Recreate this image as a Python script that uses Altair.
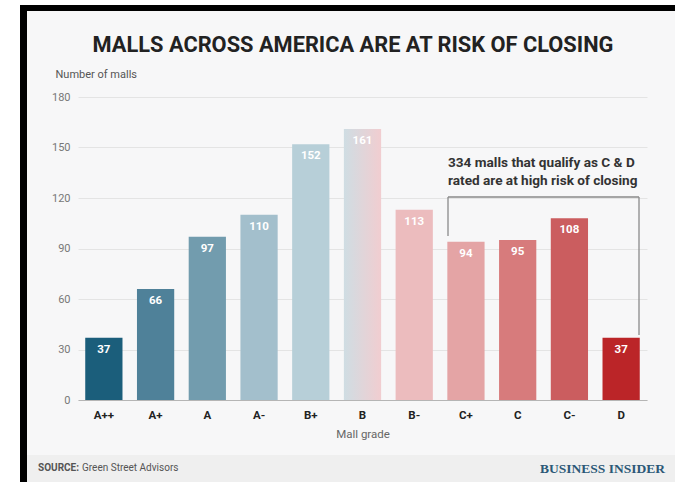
import altair as alt
import pandas as pd

grades = ["A++", "A+", "A", "A-", "B+", "B", "B-", "C+", "C", "C-", "D"]
counts = [37, 66, 97, 110, 152, 161, 113, 94, 95, 108, 37]
colors = ["#1b5e7b", "#4f8199", "#729cae", "#a3bfcc", "#b7cfd8", "#e0d6da",
          "#ecbcbe", "#e4a4a5", "#d77b7c", "#cb5d5f", "#bb2528"]
y_ticks = [0, 30, 60, 90, 120, 150, 180]

title_text = "MALLS ACROSS AMERICA ARE AT RISK OF CLOSING"
note_lines = ["334 malls that qualify as C & D", "rated are at high risk of closing"]

df = pd.DataFrame({"grade": grades, "count": counts})

W, H = 569, 303
PL, PT, PR, PB = 78, 97, 28, 82
FONT = "Roboto"

xenc = alt.X("grade:N", sort=grades, scale=alt.Scale(paddingInner=0.28, paddingOuter=0.14),
             axis=alt.Axis(title="Mall grade", labelAngle=0, labelFontWeight="bold",
                           labelColor="#222", labelFontSize=11.5, labelPadding=9,
                           ticks=False, domainColor="#b5b5b5", domainWidth=1.2,
                           titleFontWeight="normal", titleColor="#666", titleFontSize=11.5,
                           titlePadding=8))
yenc = alt.Y("count:Q", scale=alt.Scale(domain=[0, 180], nice=False),
             axis=alt.Axis(values=y_ticks, title="Number of malls", titleAngle=0,
                           titleAlign="left", titleBaseline="middle", titleX=-23, titleY=-23,
                           titleFontWeight="normal", titleColor="#555", titleFontSize=11,
                           labelColor="#777", labelFontSize=11, labelPadding=8,
                           ticks=False, domain=False, gridColor="#e4e4e4"))

base = alt.Chart(df)

bars = base.transform_filter(alt.datum.grade != "B").mark_bar().encode(
    x=xenc, y=yenc,
    color=alt.Color("grade:N", scale=alt.Scale(domain=grades, range=colors), legend=None),
)

grad = alt.LinearGradient(gradient="linear", x1=0, x2=1, y1=0, y2=0,
                          stops=[alt.GradientStop(offset=0, color="#cfdde3"),
                                 alt.GradientStop(offset=1, color="#f1cdd0")])
bar_b = base.transform_filter(alt.datum.grade == "B").mark_bar(color=grad).encode(
    x=alt.X("grade:N", sort=grades), y=alt.Y("count:Q"))

labels = base.mark_text(color="white", fontWeight="bold", fontSize=11.5, font=FONT,
                        baseline="middle", dy=12).encode(
    x=alt.X("grade:N", sort=grades), y=alt.Y("count:Q"), text="count:Q")

one = pd.DataFrame({"k": [0]})

def rect(x, x2, y, y2, c):
    return alt.Chart(one).mark_rect(color=c).encode(
        x=alt.value(x), x2=alt.value(x2), y=alt.value(y), y2=alt.value(y2))

def rule(x, x2, y, y2):
    return alt.Chart(one).mark_rule(color="#8a8a8a", strokeWidth=1.3).encode(
        x=alt.value(x), x2=alt.value(x2), y=alt.value(y), y2=alt.value(y2))

def text(t, x, y, size, weight="normal", color="#333", align="left", font=FONT, baseline="middle"):
    return alt.Chart(pd.DataFrame({"t": [t]})).mark_text(
        fontSize=size, fontWeight=weight, color=color, align=align, font=font,
        baseline=baseline, lineHeight=18).encode(
        x=alt.value(x), y=alt.value(y), text="t:N")

deco = [
    rect(-PL, -PL + 20, -PT, H + PB, "white"),
    rect(-PL, W + PR, -PT, -PT + 5, "white"),
    rect(-PL + 20, -PL + 27, -PT + 5, H + PB, "#000000"),
    rect(-PL + 20, W + PR, -PT + 5, -PT + 11, "#000000"),
    rect(-PL + 27, W + PR, 455 - PT, H + PB, "#efefef"),
]

annot = [
    text(title_text, 353 - PL, 45 - PT, 21.8, "bold", "#222", "center"),
    text(note_lines[0], 448 - PL, 163 - PT, 13.6, "bold", "#333"),
    text(note_lines[1], 448 - PL, 181 - PT, 13.6, "bold", "#333"),
    rule(448 - PL, 639 - PL, 197 - PT, 197 - PT),
    rule(448 - PL, 448 - PL, 197 - PT, 236 - PT),
    rule(639 - PL, 639 - PL, 197 - PT, 335 - PT),
    text("SOURCE:", 38 - PL, 468 - PT, 10, "bold", "#555"),
    text("Green Street Advisors", 82 - PL, 468 - PT, 10, "normal", "#555"),
    text("BUSINESS INSIDER", 665 - PL, 469 - PT, 13.5, "bold", "#2b5877", "right",
         font="Liberation Serif"),
]

chart = alt.layer(*deco, bars, bar_b, labels, *annot).properties(
    width=W, height=H,
    padding={"left": PL, "top": PT, "right": PR, "bottom": PB},
    autosize=alt.AutoSizeParams(type="none"),
    background="#f7f7f8",
).configure_view(strokeWidth=0).configure_axis(labelFont=FONT, titleFont=FONT)

chart.save("out.html", embed_options={"renderer": "svg", "actions": False})
